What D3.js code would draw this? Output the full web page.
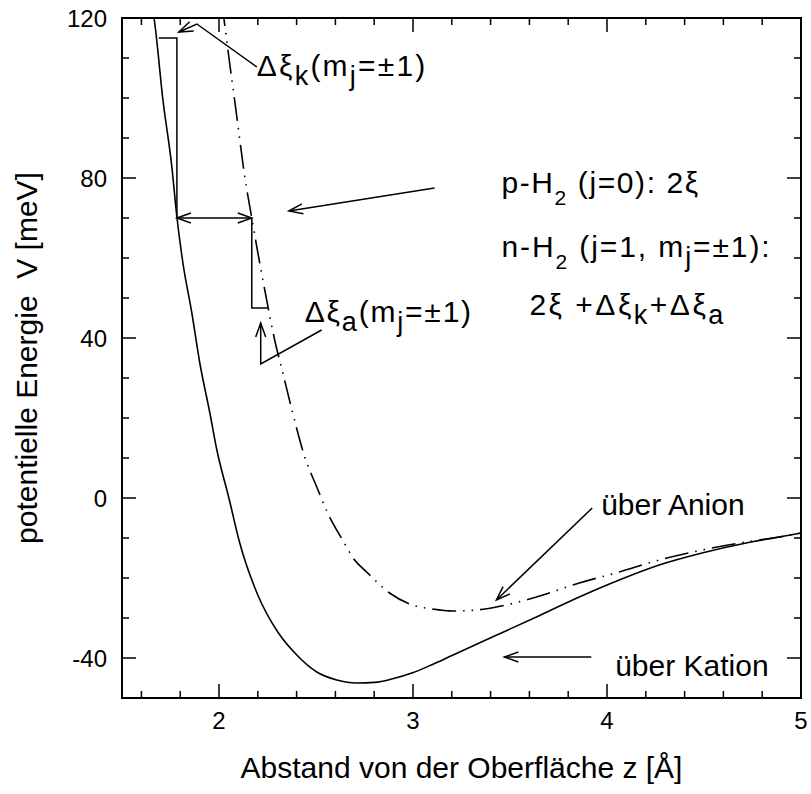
<!DOCTYPE html>
<html>
<head>
<meta charset="utf-8">
<script src="https://cdn.jsdelivr.net/npm/d3@7"></script>
<style>
  body { margin: 0; background: #fff; }
  text { font-family: "Liberation Sans", Arial, sans-serif; fill: #000; }
</style>
</head>
<body>
<div id="chart"></div>
<script>
// Potential curves, z in Angstrom, V in meV
const zKation = [1.64, 1.665, 1.711, 1.757, 1.783, 1.814, 1.860, 1.901, 1.953, 1.989, 2.051, 2.107, 2.200, 2.303, 2.401, 2.504, 2.607, 2.709, 2.802, 2.895, 2.998, 3.101, 3.204, 3.409, 3.636, 3.857, 4.063, 4.269, 4.490, 4.717, 4.887, 5.0];
const vKation = [126, 120, 99.5, 82.75, 70.25, 58.75, 46.25, 33.75, 21.25, 12, 0, -11.25, -24.25, -33.5, -39.25, -43.5, -45.5, -46.25, -46.1, -45.2, -43.7, -41.6, -39.3, -34.75, -29.75, -24.75, -20.5, -16.75, -13.75, -11.25, -9.75, -8.75];

const zAnion = [2.015, 2.025, 2.046, 2.092, 2.133, 2.169, 2.195, 2.236, 2.287, 2.329, 2.380, 2.442, 2.504, 2.560, 2.637, 2.699, 2.761, 2.879, 2.998, 3.101, 3.204, 3.327, 3.430, 3.636, 3.857, 4.063, 4.269, 4.490, 4.717, 4.887, 5.0];
const vAnion = [124, 120, 112, 95.25, 80.25, 70, 62.75, 52, 39.5, 31.25, 21.25, 10.25, 2.75, -3.75, -10.5, -15.5, -18.5, -23.75, -26.75, -27.75, -28.25, -28, -27.25, -24.75, -21.25, -18.5, -15.5, -13, -11, -9.75, -8.75];

const xTicks = [2, 3, 4, 5];
const yTicks = [-40, 0, 40, 80, 120];
const xMinor = d3.range(1.6, 5.0, 0.2);
const yMinor = d3.range(-50, 121, 10);

// Level steps and pointers (data coordinates)
const stepK = [[1.690, 115], [1.783, 115], [1.783, 70]];
const stepA = [[2.169, 70], [2.169, 47.5], [2.251, 47.5]];
const gapArrow = [[1.783, 70], [2.169, 70]];
const pointerK = [[2.195, 107.75], [1.886, 118.5], [1.793, 116.5]];
const pointerP = [[3.111, 77.5], [2.360, 71.75]];
const pointerA = [[2.529, 42], [2.215, 33.5], [2.215, 43.75]];
const pointerAnion = [[3.924, -2.5], [3.430, -25.5]];
const pointerKation = [[3.919, -39.75], [3.471, -39.75]];

const width = 811, height = 794;
const mLeft = 122, mRight = 801, mTop = 18, mBottom = 698;

const svg = d3.select("#chart").append("svg")
  .attr("width", width)
  .attr("height", height);

const x = d3.scaleLinear().domain([1.5, 5]).range([mLeft, mRight]);
const y = d3.scaleLinear().domain([-50, 120]).range([mBottom, mTop]);

svg.append("clipPath").attr("id", "clip")
  .append("rect")
  .attr("x", mLeft).attr("y", mTop)
  .attr("width", mRight - mLeft).attr("height", mBottom - mTop);

// ticks on all four sides, pointing inward
const tk = svg.append("g").attr("stroke", "#000").attr("stroke-width", 1.5);
function xTick(v, len) {
  tk.append("line").attr("x1", x(v)).attr("x2", x(v)).attr("y1", mBottom).attr("y2", mBottom - len);
  tk.append("line").attr("x1", x(v)).attr("x2", x(v)).attr("y1", mTop).attr("y2", mTop + len);
}
function yTick(v, len) {
  tk.append("line").attr("y1", y(v)).attr("y2", y(v)).attr("x1", mLeft).attr("x2", mLeft + len);
  tk.append("line").attr("y1", y(v)).attr("y2", y(v)).attr("x1", mRight).attr("x2", mRight - len);
}
xMinor.forEach(v => xTick(v, xTicks.some(t => Math.abs(t - v) < 1e-6) ? 14 : 7));
yMinor.forEach(v => yTick(v, yTicks.some(t => Math.abs(t - v) < 1e-6) ? 14 : 7));

svg.append("g").selectAll("text")
  .data(xTicks)
  .enter().append("text")
  .attr("x", d => x(d))
  .attr("y", mBottom + 31)
  .attr("text-anchor", "middle")
  .attr("font-size", "24px")
  .text(d => d);

svg.append("g").selectAll("text")
  .data(yTicks)
  .enter().append("text")
  .attr("x", mLeft - 15)
  .attr("y", d => y(d) + 8.5)
  .attr("text-anchor", "end")
  .attr("font-size", "24px")
  .text(d => d);

// frame
svg.append("rect")
  .attr("x", mLeft).attr("y", mTop)
  .attr("width", mRight - mLeft).attr("height", mBottom - mTop)
  .attr("fill", "none")
  .attr("stroke", "#000")
  .attr("stroke-width", 2);

// curves
const line = d3.line()
  .x(d => x(d[0]))
  .y(d => y(d[1]))
  .curve(d3.curveMonotoneX);

const curves = svg.append("g").attr("clip-path", "url(#clip)");
curves.append("path")
  .attr("d", line(d3.zip(zKation, vKation)))
  .attr("fill", "none")
  .attr("stroke", "#000")
  .attr("stroke-width", 1.6);
curves.append("path")
  .attr("d", line(d3.zip(zAnion, vAnion)))
  .attr("fill", "none")
  .attr("stroke", "#000")
  .attr("stroke-width", 1.6)
  .attr("stroke-dasharray", "24,7,1.5,7,1.5,7");

// annotation lines
const plain = d3.line().x(d => x(d[0])).y(d => y(d[1]));
const ann = svg.append("g").attr("fill", "none").attr("stroke", "#000").attr("stroke-width", 1.5);

function arrowHead(p, q) {
  // open head at q, coming from p
  const x1 = x(p[0]), y1 = y(p[1]), x2 = x(q[0]), y2 = y(q[1]);
  const a = Math.atan2(y2 - y1, x2 - x1);
  const L = 14, W = 5;
  const bx = x2 - L * Math.cos(a), by = y2 - L * Math.sin(a);
  const nx = -Math.sin(a) * W, ny = Math.cos(a) * W;
  ann.append("path").attr("d", `M${bx + nx},${by + ny}L${x2},${y2}L${bx - nx},${by - ny}`);
}
function pointer(pts) {
  ann.append("path").attr("d", plain(pts));
  arrowHead(pts[pts.length - 2], pts[pts.length - 1]);
}

ann.append("path").attr("d", plain(stepK));
ann.append("path").attr("d", plain(stepA));
ann.append("path").attr("d", plain(gapArrow));
arrowHead(gapArrow[1], gapArrow[0]);
arrowHead(gapArrow[0], gapArrow[1]);
[pointerK, pointerP, pointerA, pointerAnion, pointerKation].forEach(pointer);

// labels with subscripts
function label(px, py, parts, spacing = 0) {
  const t = svg.append("text")
    .attr("x", px).attr("y", py)
    .attr("font-size", "30px")
    .attr("letter-spacing", spacing)
    .style("white-space", "pre");
  let shift = 0;
  parts.forEach(p => {
    const s = typeof p === "string" ? { t: p, d: 0, fs: 30 } : p;
    t.append("tspan")
      .attr("dy", s.d - shift)
      .attr("font-size", s.fs + "px")
      .text(s.t);
    shift = s.d;
  });
}
const sub = (t, d = 9, fs = 27) => ({ t, d, fs });
const sub2 = t => ({ t, d: 12, fs: 21 });

label(x(2.195), y(105.5), ["Δξ", sub("k"), "(m", sub("j"), "=±1)"], 2.2);
label(x(3.456), y(76.25), ["p-H", sub2("2"), " (j=0): 2ξ"], 1.6);
label(x(3.456), y(60.25), ["n-H", sub2("2"), " (j=1, m", sub("j"), "=±1):"], 1.9);
label(x(3.600), y(45.75), ["2ξ +Δξ", sub("k"), "+Δξ", sub("a")], 2.5);
label(x(2.442), y(44), ["Δξ", sub("a"), "(m", sub("j"), "=±1)"], 1.8);
label(x(3.970), y(-4.25), ["über Anion"]);
label(x(4.042), y(-44.5), ["über Kation"]);

// axis titles
svg.append("text")
  .attr("x", (mLeft + mRight) / 2)
  .attr("y", 778)
  .attr("text-anchor", "middle")
  .attr("font-size", "30px")
  .text("Abstand von der Oberfläche z [Å]");

svg.append("text")
  .attr("transform", `translate(37,${(mTop + mBottom) / 2}) rotate(-90)`)
  .attr("text-anchor", "middle")
  .attr("font-size", "30px")
  .style("white-space", "pre")
  .text("potentielle Energie  V [meV]");
</script>
</body>
</html>
